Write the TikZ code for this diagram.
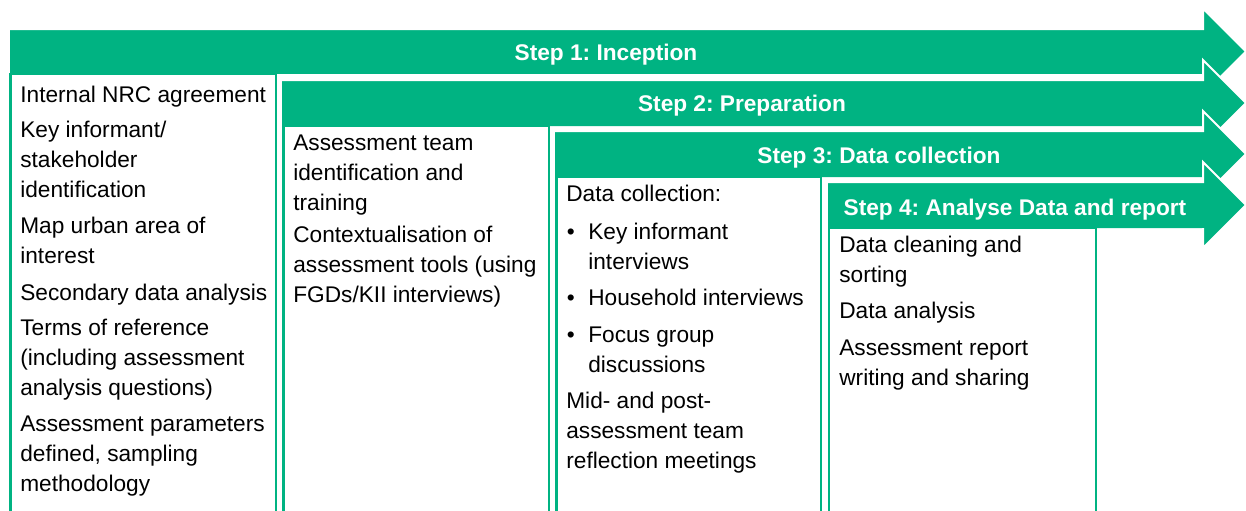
\documentclass[tikz,border=0pt]{standalone}
\usepackage{fontspec}
\setmainfont{Liberation Sans}
\frenchspacing
\definecolor{nrcgreen}{RGB}{0,179,130}
\newcommand{\boxfont}{\fontsize{12.9pt}{16.8pt}\selectfont}

\tikzset{
  stepband/.style={fill=nrcgreen},
  stepedge/.style={draw=white, line width=1.15pt, line join=miter},
  stepcol/.style={draw=nrcgreen, line width=1.45pt},
  steptitle/.style={anchor=base, text=white, font=\boxfont\bfseries, inner sep=0pt},
  % base of a multi-line item is the base of its last line
  colitem/.style={anchor=base west, align=left, inner sep=0pt, font=\boxfont},
}

\begin{document}
\begin{tikzpicture}[x=0.02cm, y=-0.02cm]
\useasboundingbox (0,0) rectangle (1246,510);

% step 1
\draw[stepcol] (10.75,74) rectangle (276,515);
\fill[stepband] (10,29) -- (1203,29) -- (1203,8.5) -- (1246,51.5) -- (1203,94.5) -- (1203,74) -- (10,74) -- cycle;
\draw[stepedge] (10,29) -- (1203,29) -- (1203,8.5) -- (1246,51.5) -- (1203,94.5) -- (1203,74);
\node[steptitle] (s1) at (606,61) {Step 1: Inception};

% step 2
\draw[stepcol] (283.5,126) rectangle (549,515);
\fill[stepband] (282,80) -- (1203,80) -- (1203,60) -- (1246,103) -- (1203,146) -- (1203,126) -- (282,126) -- cycle;
\draw[stepedge] (282,80) -- (1203,80) -- (1203,60) -- (1246,103) -- (1203,146) -- (1203,126);
\node[steptitle] (s2) at (742,112) {Step 2: Preparation};

% step 3
\draw[stepcol] (556.5,177) rectangle (821,515);
\fill[stepband] (555,131) -- (1203,131) -- (1203,111) -- (1246,154) -- (1203,197) -- (1203,177) -- (555,177) -- cycle;
\draw[stepedge] (555,131) -- (1203,131) -- (1203,111) -- (1246,154) -- (1203,197) -- (1203,177);
\node[steptitle] (s3) at (879,163) {Step 3: Data collection};

% step 4
\draw[stepcol] (829,228) rectangle (1096,515);
\fill[stepband] (828,182) -- (1203,182) -- (1203,162) -- (1246,205) -- (1203,248) -- (1203,228) -- (828,228) -- cycle;
\draw[stepedge] (828,182) -- (1203,182) -- (1203,162) -- (1246,205) -- (1203,248) -- (1203,228);
\node[steptitle] (s4) at (1015,215) {Step 4: Analyse Data and report};

% column 1
\node[colitem] (c1a) at (20,102) {Internal NRC agreement};
\node[colitem] (c1b) at (20,197) {Key informant/\\stakeholder\\identification};
\node[colitem] (c1c) at (20,263) {Map urban area of\\interest};
\node[colitem] (c1d) at (20,300) {Secondary data analysis};
\node[colitem] (c1e) at (20,395) {Terms of reference\\(including assessment\\analysis questions)};
\node[colitem] (c1f) at (20,491) {Assessment parameters\\defined, sampling\\methodology};

% column 2
\node[colitem] (c2a) at (293,210) {Assessment team\\identification and\\training};
\node[colitem] (c2b) at (293,302) {Contextualisation of\\assessment tools (using\\FGDs/KII interviews)};

% column 3
\node[colitem] (c3a) at (566,201) {Data collection:};
\node[colitem] (c3b) at (588,269) {\llap{\textbullet\hspace{0.27cm}}Key informant\\interviews};
\node[colitem] (c3c) at (588,305) {\llap{\textbullet\hspace{0.27cm}}Household interviews};
\node[colitem] (c3d) at (588,372) {\llap{\textbullet\hspace{0.27cm}}Focus group\\discussions};
\node[colitem] (c3e) at (566,468) {Mid- and post-\\assessment team\\reflection meetings};

% column 4
\node[colitem] (c4a) at (839,282) {Data cleaning and\\sorting};
\node[colitem] (c4b) at (839,318) {Data analysis};
\node[colitem] (c4c) at (839,385) {Assessment report\\writing and sharing};
\end{tikzpicture}
\end{document}
